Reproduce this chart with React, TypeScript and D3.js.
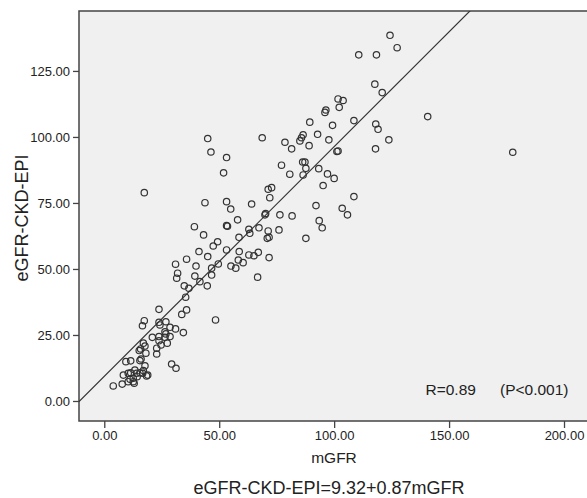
import React, { useEffect, useRef } from 'react';
import * as d3 from 'd3';

const mGFR = [
  124.3, 127.4, 120.9, 140.7, 123.8, 177.7, 110.7, 118.4, 117.7, 101.7,
  103.9, 102.2, 96.4, 96.0, 108.6, 89.4, 99.3, 118.1, 119.1, 45.0,
  68.7, 92.8, 86.5, 85.8, 85.1, 78.6, 97.7, 81.5, 89.1, 46.4,
  101.7, 101.2, 118.0, 53.2, 51.9, 77.1, 86.3, 87.3, 87.7, 93.3,
  80.7, 86.5, 97.1, 100.0, 95.2, 71.3, 72.8, 72.0, 108.6, 43.8,
  53.2, 55.0, 64.1, 69.9, 70.2, 76.4, 81.7, 58.0, 53.2, 53.6,
  39.2, 43.2, 67.3, 62.9, 63.3, 71.3, 76.0, 70.9, 71.7, 58.6,
  87.7, 49.3, 47.4, 53.2, 41.2, 45.0, 58.7, 62.9, 65.1, 67.0,
  71.7, 35.8, 92.1, 103.5, 105.8, 93.5, 94.8, 39.9, 49.6, 55.1,
  57.2, 60.4, 58.3, 46.7, 39.4, 46.7, 34.8, 36.8, 41.6, 44.8,
  66.7, 35.4, 35.8, 33.7, 48.4, 34.4, 31.0, 31.9, 31.5, 23.8,
  17.4, 16.6, 23.8, 24.2, 26.8, 28.6, 31.0, 26.4, 20.9, 23.8,
  26.4, 28.6, 23.8, 26.8, 24.7, 27.4, 17.0, 17.7, 15.8, 15.2,
  22.8, 22.8, 18.1, 9.4, 11.5, 15.5, 16.0, 17.7, 17.0, 29.3,
  31.2, 8.3, 10.4, 11.5, 13.3, 14.1, 15.5, 14.3, 12.6, 12.6,
  13.0, 16.7, 18.4, 18.9, 11.2, 10.4, 7.8, 3.9, 17.4
];
const eGFR = [
  138.5, 133.8, 116.8, 107.7, 98.9, 94.2, 131.1, 131.1, 120.0, 114.4,
  113.8, 111.2, 110.2, 109.3, 106.2, 105.6, 104.4, 104.9, 102.9, 99.4,
  99.7, 101.0, 100.8, 99.7, 98.5, 98.0, 98.9, 95.5, 96.7, 94.3,
  94.7, 94.5, 95.5, 92.2, 86.4, 89.3, 90.5, 90.5, 88.1, 88.0,
  85.9, 85.6, 86.0, 84.3, 81.6, 80.2, 80.8, 77.0, 77.4, 75.1,
  75.5, 72.7, 74.6, 70.5, 71.0, 70.5, 70.1, 68.6, 66.4, 66.2,
  66.0, 62.9, 65.6, 65.0, 63.5, 64.4, 64.8, 61.6, 62.0, 62.0,
  61.6, 60.3, 58.7, 57.2, 56.6, 54.7, 56.6, 55.3, 55.0, 56.3,
  54.3, 53.7, 74.0, 73.0, 70.5, 68.3, 65.6, 51.1, 51.9, 51.1,
  50.3, 52.4, 53.4, 50.3, 47.3, 47.7, 43.6, 42.7, 45.2, 43.6,
  46.9, 39.3, 34.5, 32.8, 30.7, 25.9, 51.8, 48.4, 46.5, 34.7,
  30.4, 28.5, 29.8, 28.8, 30.0, 27.9, 27.3, 26.2, 24.1, 24.4,
  24.1, 24.4, 22.8, 25.4, 21.2, 21.9, 21.9, 20.8, 19.7, 19.1,
  20.0, 17.8, 18.1, 14.9, 15.2, 15.3, 15.9, 13.3, 11.5, 14.0,
  12.4, 9.8, 10.5, 10.7, 11.7, 10.5, 10.7, 9.2, 8.6, 7.3,
  6.7, 10.5, 9.5, 9.8, 8.2, 7.3, 6.4, 5.7, 78.9
];

const xTicks = [0, 50, 100, 150, 200];
const yTicks = [0, 25, 50, 75, 100, 125];
const intercept = 9.32;
const slope = 0.87;

const W = 587, H = 498;

const App = () => {
  const ref = useRef(null);

  useEffect(() => {
    const svg = d3.select(ref.current);
    svg.selectAll('*').remove();

    const left = 79, right = 587, top = 11, bottom = 421;
    const x = d3.scaleLinear().domain([-11, 210]).range([left, right]);
    const y = d3.scaleLinear().domain([-7.58, 147.7]).range([bottom, top]);
    const font = 'Liberation Sans, Arial, sans-serif';
    const ink = '#222';

    svg.append('clipPath').attr('id', 'plotclip')
      .append('rect').attr('x', left).attr('y', top)
      .attr('width', right - left).attr('height', bottom - top);

    svg.append('rect')
      .attr('x', left).attr('y', top)
      .attr('width', right - left).attr('height', bottom - top)
      .attr('fill', '#f0f0f0');

    // frame: top, left, bottom (right side runs off the picture)
    svg.append('path')
      .attr('d', `M${right + 2},${top}H${left}V${bottom}H${right + 2}`)
      .attr('fill', 'none').attr('stroke', '#444').attr('stroke-width', 1.5);

    const yAxis = svg.append('g')
      .attr('transform', `translate(${left},0)`)
      .call(d3.axisLeft(y).tickValues(yTicks).tickFormat(d3.format('.2f')).tickSize(6).tickPadding(3));
    const xAxis = svg.append('g')
      .attr('transform', `translate(0,${bottom})`)
      .call(d3.axisBottom(x).tickValues(xTicks).tickFormat(d3.format('.2f')).tickSize(7).tickPadding(3));

    [yAxis, xAxis].forEach(g => {
      g.select('.domain').remove();
      g.selectAll('line').attr('stroke', '#444').attr('stroke-width', 1.3);
      g.selectAll('text').attr('fill', ink).style('font-family', font).style('font-size', '13px');
    });

    const pts = mGFR.map((v, i) => ({ x: v, y: eGFR[i] }));
    svg.append('g').attr('clip-path', 'url(#plotclip)')
      .selectAll('circle')
      .data(pts)
      .enter()
      .append('circle')
      .attr('cx', d => x(d.x))
      .attr('cy', d => y(d.y))
      .attr('r', 3.2)
      .attr('fill', 'none')
      .attr('stroke', '#333')
      .attr('stroke-width', 1.2);

    const line = d3.line().x(d => x(d[0])).y(d => y(d[1]));
    svg.append('path')
      .attr('clip-path', 'url(#plotclip)')
      .attr('d', line([-11, 210].map(v => [v, intercept + slope * v])))
      .attr('fill', 'none').attr('stroke', '#333').attr('stroke-width', 1.2);

    svg.append('text').attr('x', 425.5).attr('y', 395)
      .style('font-family', font).style('font-size', '15.5px').attr('fill', ink)
      .text('R=0.89');
    svg.append('text').attr('x', 500).attr('y', 395)
      .style('font-family', font).style('font-size', '15.5px').attr('fill', ink)
      .text('(P<0.001)');

    svg.append('text').attr('x', 334).attr('y', 463).attr('text-anchor', 'middle')
      .style('font-family', font).style('font-size', '15.5px').attr('fill', ink)
      .text('mGFR');

    svg.append('text')
      .attr('transform', `translate(28,218) rotate(-90)`)
      .attr('text-anchor', 'middle')
      .style('font-family', font).style('font-size', '18px').attr('fill', ink)
      .text('eGFR-CKD-EPI');

    svg.append('text').attr('x', 329).attr('y', 494).attr('text-anchor', 'middle')
      .style('font-family', font).style('font-size', '18px').attr('fill', ink)
      .text(`eGFR-CKD-EPI=${intercept}+${slope}mGFR`);
  }, []);

  return (
    <div style={{ position: 'absolute', left: 0, top: 0 }}>
      <svg ref={ref} width={W} height={H} style={{ display: 'block', background: '#fff' }} />
    </div>
  );
};

export default App;
